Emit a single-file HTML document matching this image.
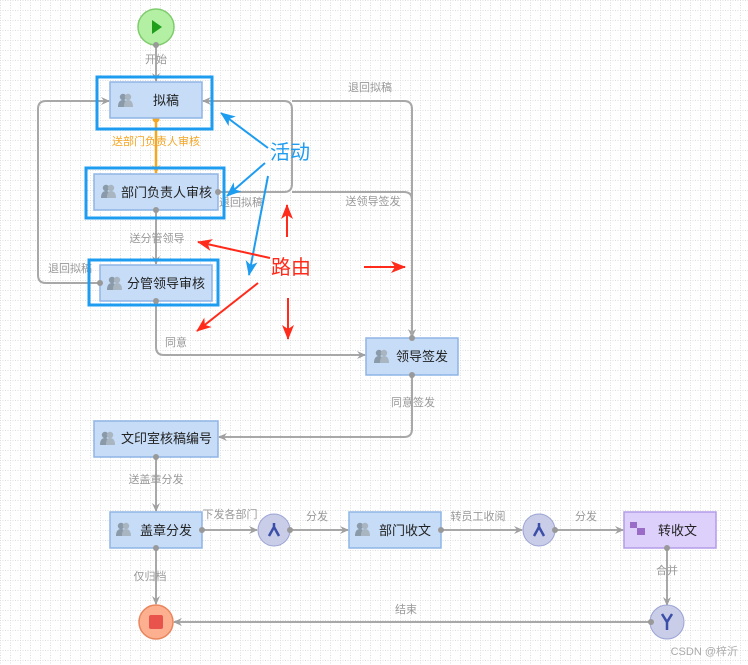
<!DOCTYPE html>
<html><head><meta charset="utf-8"><style>
html,body{margin:0;padding:0;background:#fff;}
svg{display:block;font-family:"Liberation Sans","Noto Sans CJK SC",sans-serif;}
.l{fill:none;stroke:#a8a8a8;stroke-width:2;}
.lb{font-size:11px;fill:#999;text-anchor:middle;}
.bx{fill:#c6dcf7;stroke:#8fb5e6;stroke-width:1.5;}
.fr{fill:none;stroke:#1e9cf0;stroke-width:3;}
.t{font-size:13px;fill:#222;}
.dot{fill:#999;}
</style></head><body>
<svg width="748" height="665" viewBox="0 0 748 665" xmlns="http://www.w3.org/2000/svg">
<defs>
<pattern id="g" width="10" height="10" patternUnits="userSpaceOnUse">
<path d="M0 0.5H10M0.5 0V10" stroke="#dcdcdc" stroke-width="1" stroke-dasharray="1,1.5"/>
</pattern>
<marker id="a" markerWidth="10" markerHeight="10" refX="8" refY="5" orient="auto" markerUnits="userSpaceOnUse"><path d="M0,1 L9,5 L0,9 L3,5z" fill="#a0a0a0"/></marker>
<marker id="ao" markerWidth="10" markerHeight="10" refX="8" refY="5" orient="auto" markerUnits="userSpaceOnUse"><path d="M0,1 L9,5 L0,9 L3,5z" fill="#f5a623"/></marker>
<marker id="ab" markerWidth="16" markerHeight="16" refX="14" refY="8" orient="auto" markerUnits="userSpaceOnUse"><path d="M0,2 L15,8 L0,14 L4,8z" fill="#1e9cf0"/></marker>
<marker id="ar" markerWidth="16" markerHeight="16" refX="14" refY="8" orient="auto" markerUnits="userSpaceOnUse"><path d="M0,2 L15,8 L0,14 L4,8z" fill="#ff2a1a"/></marker>
<g id="u"><circle cx="-3" cy="-4" r="3.2" fill="#8a9aa8"/><path d="M-8 6 Q-8 -1 -3 -1 Q2 -1 2 6z" fill="#8a9aa8"/><circle cx="2" cy="-4" r="3.2" fill="#a9b6c2"/><path d="M-2 6 Q-2 -1 2 -1 Q7 -1 7 6z" fill="#a9b6c2"/></g>
</defs>
<rect width="748" height="665" fill="url(#g)"/>

<!-- connectors -->
<path class="l" d="M156 45V81" marker-end="url(#a)"/>
<text class="lb" x="156" y="63">开始</text>
<path d="M156 118V173" stroke="#f5a623" stroke-width="2.5" fill="none" marker-end="url(#ao)"/>
<circle cx="156" cy="119" r="3.5" fill="#f5a623"/>
<text class="lb" x="156" y="145" style="fill:#f5a623">送部门负责人审核</text>
<path class="l" d="M156 210V264" marker-end="url(#a)"/>
<text class="lb" x="157" y="242">送分管领导</text>
<path class="l" d="M100 283H46Q38 283 38 275V109Q38 101 46 101H109" marker-end="url(#a)"/>
<text class="lb" x="70" y="272">退回拟稿</text>
<path class="l" d="M218 192H284Q292 192 292 184V109Q292 101 284 101H203" marker-end="url(#a)"/>
<text class="lb" x="241" y="206">退回拟稿</text>
<path class="l" d="M292 101H404Q412 101 412 109V337" marker-end="url(#a)"/>
<text class="lb" x="370" y="91">退回拟稿</text>
<path class="l" d="M292 192H404Q412 192 412 200V337"/>
<text class="lb" x="373" y="205">送领导签发</text>
<path class="l" d="M156 301V347Q156 355 164 355H365" marker-end="url(#a)"/>
<text class="lb" x="176" y="346">同意</text>
<path class="l" d="M412 375V429Q412 437 404 437H219" marker-end="url(#a)"/>
<text class="lb" x="413" y="406">同意签发</text>
<path class="l" d="M156 457V511" marker-end="url(#a)"/>
<text class="lb" x="156" y="483">送盖章分发</text>
<path class="l" d="M202 530H257" marker-end="url(#a)"/>
<text class="lb" x="230" y="518">下发各部门</text>
<path class="l" d="M290 530H348" marker-end="url(#a)"/>
<text class="lb" x="317" y="520">分发</text>
<path class="l" d="M441 530H522" marker-end="url(#a)"/>
<text class="lb" x="478" y="520">转员工收阅</text>
<path class="l" d="M555 530H623" marker-end="url(#a)"/>
<text class="lb" x="586" y="520">分发</text>
<path class="l" d="M667 548V605" marker-end="url(#a)"/>
<text class="lb" x="667" y="574">合并</text>
<path class="l" d="M651 622H174" marker-end="url(#a)"/>
<text class="lb" x="406" y="613">结束</text>
<path class="l" d="M156 548V604" marker-end="url(#a)"/>
<text class="lb" x="150" y="580">仅归档</text>

<!-- start -->
<circle cx="156" cy="27" r="18" fill="#b4f0a4" stroke="#7fcc6e" stroke-width="1.5"/>
<path d="M152 20L162 27L152 34z" fill="#1e9e1a"/>

<!-- framed nodes -->
<rect class="fr" x="97" y="77" width="115" height="52"/>
<rect class="bx" x="110" y="82" width="92" height="36"/>
<use href="#u" x="126" y="101"/><text class="t" x="153" y="105">拟稿</text>

<rect class="fr" x="86" y="168" width="138" height="50"/>
<rect class="bx" x="94" y="174" width="124" height="36"/>
<use href="#u" x="109" y="192"/><text class="t" x="121" y="197">部门负责人审核</text>

<rect class="fr" x="89" y="260" width="129" height="45"/>
<rect class="bx" x="100" y="265" width="112" height="36"/>
<use href="#u" x="115" y="284"/><text class="t" x="127" y="288">分管领导审核</text>

<rect class="bx" x="366" y="338" width="92" height="37"/>
<use href="#u" x="382" y="357"/><text class="t" x="396" y="361">领导签发</text>

<rect class="bx" x="94" y="421" width="124" height="36"/>
<use href="#u" x="108" y="439"/><text class="t" x="121" y="443">文印室核稿编号</text>

<rect class="bx" x="110" y="512" width="92" height="36"/>
<use href="#u" x="124" y="530"/><text class="t" x="140" y="535">盖章分发</text>

<rect class="bx" x="349" y="512" width="92" height="36"/>
<use href="#u" x="363" y="530"/><text class="t" x="379" y="535">部门收文</text>

<rect x="624" y="512" width="92" height="36" fill="#ddd0fb" stroke="#b39ce8" stroke-width="1.5"/>
<rect x="630" y="522" width="7" height="6" fill="#9a6cc8"/><rect x="637" y="528" width="8" height="7" fill="#9a6cc8"/>
<text class="t" x="658" y="535">转收文</text>

<!-- forks / join -->
<circle cx="274" cy="530" r="16" fill="#c9cde8" stroke="#9aa3d4" stroke-width="1"/>
<path d="M274 523V527M274 527L269 536M274 527L279 536" stroke="#3b4ea8" stroke-width="2.5" fill="none"/>
<circle cx="539" cy="530" r="16" fill="#c9cde8" stroke="#9aa3d4" stroke-width="1"/>
<path d="M539 523V527M539 527L534 536M539 527L544 536" stroke="#3b4ea8" stroke-width="2.5" fill="none"/>
<circle cx="667" cy="622" r="17" fill="#c9cde8" stroke="#9aa3d4" stroke-width="1"/>
<path d="M662 614L667 622L672 614M667 622V630" stroke="#3b4ea8" stroke-width="2.5" fill="none"/>

<!-- end -->
<circle cx="156" cy="622" r="17" fill="#fdb08f" stroke="#e8865e" stroke-width="1.5"/>
<rect x="149" y="615" width="14" height="14" rx="2" fill="#e8544b"/>

<!-- dots -->
<g class="dot"><circle cx="156" cy="45" r="3"/><circle cx="218" cy="192" r="3"/><circle cx="156" cy="210" r="3"/><circle cx="100" cy="283" r="3"/><circle cx="156" cy="301" r="3"/><circle cx="412" cy="375" r="3"/><circle cx="412" cy="338" r="3"/><circle cx="156" cy="457" r="3"/><circle cx="202" cy="530" r="3"/><circle cx="156" cy="548" r="3"/><circle cx="290" cy="530" r="3"/><circle cx="441" cy="530" r="3"/><circle cx="555" cy="530" r="3"/><circle cx="667" cy="548" r="3"/><circle cx="651" cy="622" r="3"/></g>

<!-- annotations -->
<text x="270" y="159" font-size="20" fill="#1e9cf0">活动</text>
<path d="M268 148L221 113" stroke="#1e9cf0" stroke-width="2" marker-end="url(#ab)"/>
<path d="M265 163L227 196" stroke="#1e9cf0" stroke-width="2" marker-end="url(#ab)"/>
<path d="M268 176L249 275" stroke="#1e9cf0" stroke-width="2" marker-end="url(#ab)"/>
<text x="271" y="274" font-size="20" fill="#ff2a1a">路由</text>
<path d="M270 258L198 242" stroke="#ff2a1a" stroke-width="2" marker-end="url(#ar)"/>
<path d="M287 237L287 205" stroke="#ff2a1a" stroke-width="2" marker-end="url(#ar)"/>
<path d="M364 267L405 267" stroke="#ff2a1a" stroke-width="2" marker-end="url(#ar)"/>
<path d="M258 283L197 331" stroke="#ff2a1a" stroke-width="2" marker-end="url(#ar)"/>
<path d="M288 298L288 339" stroke="#ff2a1a" stroke-width="2" marker-end="url(#ar)"/>

<text x="738" y="655" font-size="11" fill="#aaa" text-anchor="end">CSDN @梓沂</text>
</svg>
</body></html>
